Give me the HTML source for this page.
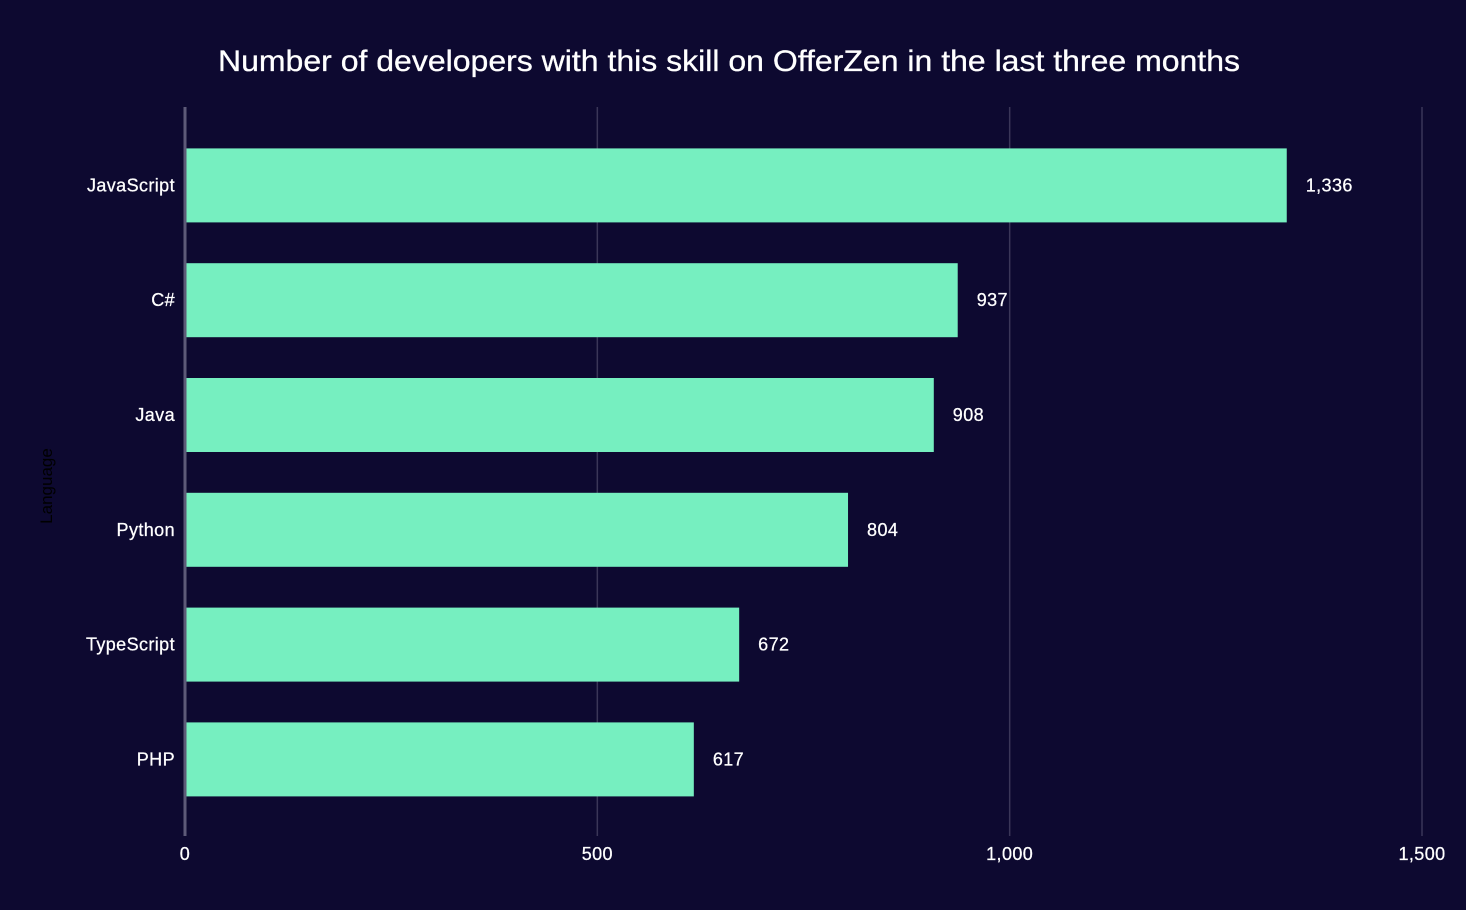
<!DOCTYPE html>
<html><head><meta charset="utf-8"><style>
html,body{margin:0;padding:0;background:#0d0930;}
svg{display:block;font-family:"Liberation Sans",Arial,sans-serif;}
</style></head><body>
<svg id="chart" width="1466" height="910" viewBox="0 0 1466 910" xmlns="http://www.w3.org/2000/svg">
<rect x="0" y="0" width="1466" height="910" fill="#0d0930"/>
<text x="218" y="71" textLength="1022" lengthAdjust="spacingAndGlyphs" fill="#ffffff" font-size="30" stroke="#ffffff" stroke-width="0.3">Number of developers with this skill on OfferZen in the last three months</text>
<text transform="translate(52,486) rotate(-90)" text-anchor="middle" fill="#000000" font-size="17">Language</text>
<g id="grid"></g>
<g id="bars"></g>
<g id="labels"></g>
</svg>
<script>
const categories = ["JavaScript","C#","Java","Python","TypeScript","PHP"];
const values = [1336,937,908,804,672,617];
const valueLabels = ["1,336","937","908","804","672","617"];
const tickValues = [0,500,1000,1500];
const tickLabels = ["0","500","1,000","1,500"];

const NS="http://www.w3.org/2000/svg";
const x0=185, x1=1422, xMax=1500;
const xScale=v=>x0+(x1-x0)*v/xMax;
const bandTop=128, bandStep=114.8, barH=74;
const yBand=i=>bandTop+i*bandStep+(bandStep-barH)/2;
function mk(tag,attrs,parent,text){const e=document.createElementNS(NS,tag);for(const k in attrs)e.setAttribute(k,attrs[k]);if(text!==undefined)e.textContent=text;parent.appendChild(e);return e;}
const grid=document.getElementById('grid'),bars=document.getElementById('bars'),labels=document.getElementById('labels');
const txtStyle={fill:'#ffffff','font-size':18,'letter-spacing':0.4,stroke:'#ffffff','stroke-width':0.25};
tickValues.forEach((t,i)=>{
  const x=xScale(t);
  const l=mk('line',{x1:x,x2:x,y1:107,y2:836,stroke:t===0?'#5d5a78':'#3a3658','stroke-width':t===0?3:1.5},grid);
  
  
  const tx=mk('text',Object.assign({x:x,y:860,'text-anchor':'middle'},txtStyle),grid,tickLabels[i]);
  
  
});
categories.forEach((c,i)=>{
  const y=yBand(i);
  const r=mk('rect',{x:x0+1.5,y:y,width:xScale(values[i])-x0-1.5,height:barH,fill:'#76efc0'},bars);
  
  
  const cl=mk('text',Object.assign({x:175,y:y+barH/2+6,'text-anchor':'end'},txtStyle),labels,c);
  
  
  const vl=mk('text',Object.assign({x:xScale(values[i])+19,y:y+barH/2+6},txtStyle),labels,valueLabels[i]);
  
  
});
</script>
</body></html>
